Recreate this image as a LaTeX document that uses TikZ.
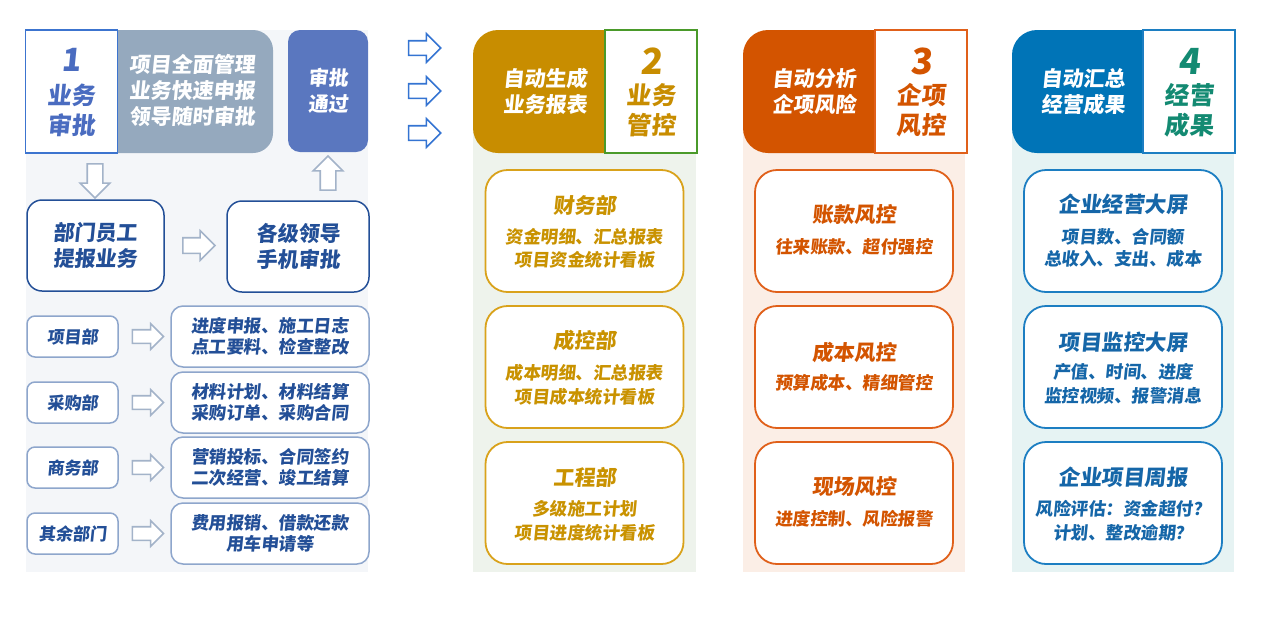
\documentclass[tikz,border=0pt]{standalone}
\usepackage{fontspec}
\newfontfamily\cjk{Noto Sans CJK SC}[FakeSlant=0.1]
\usetikzlibrary{shapes.arrows}

\definecolor{bgone}{HTML}{F4F6F9}
\definecolor{bgtwo}{HTML}{EEF3EC}
\definecolor{bgthree}{HTML}{FBEEE6}
\definecolor{bgfour}{HTML}{E6F3F3}
\definecolor{numblue}{HTML}{3C74CF}
\definecolor{onetext}{HTML}{4A6CC0}
\definecolor{deepblue}{HTML}{234F97}
\definecolor{grayhdr}{HTML}{95A9BE}
\definecolor{passblue}{HTML}{5A77BF}
\definecolor{arrgray}{HTML}{A3B3C9}
\definecolor{deptline}{HTML}{8EA6CC}
\definecolor{arrblue}{HTML}{3474D2}
\definecolor{goldhdr}{HTML}{C88D00}
\definecolor{goldline}{HTML}{D9A21B}
\definecolor{goldtext}{HTML}{C99200}
\definecolor{greenline}{HTML}{4A9A2A}
\definecolor{orghdr}{HTML}{D35400}
\definecolor{orgline}{HTML}{E0601A}
\definecolor{bluehdr}{HTML}{0074B7}
\definecolor{blueline}{HTML}{1C7EC2}
\definecolor{bluetext}{HTML}{1566A8}
\definecolor{tealtext}{HTML}{138A72}

\tikzset{
	txt/.style args={#1/#2}{align=center, inner sep=0pt, font=\cjk\bfseries\fontsize{#1}{#2}\selectfont},
	blockarr/.style={single arrow, draw=arrgray, fill=white, line width=1.6pt,
		minimum height=34pt, single arrow head extend=7pt, inner sep=7pt},
	flowbox/.style={draw=deepblue, fill=white, line width=1.5pt, rounded corners=15pt,
		minimum width=137pt, minimum height=91pt},
	deptbox/.style={draw=deptline, fill=white, line width=1.5pt, rounded corners=8pt,
		minimum width=91pt, minimum height=41pt},
	taskbox/.style={draw=deptline, fill=white, line width=1.5pt, rounded corners=12pt,
		minimum width=198pt, minimum height=61pt},
	numbox/.style={fill=white, line width=1.5pt, minimum width=92pt, minimum height=123pt},
	card/.style={draw=#1, fill=white, line width=1.8pt, rounded corners=22pt,
		minimum width=198pt, minimum height=122pt},
}

\begin{document}
\begin{tikzpicture}[x=1pt, y=-1pt]
		%%%%% START %%%%%
		\useasboundingbox (0,0) rectangle (1268,622);
		
		% column 1
		\fill[bgone] (26,30) rectangle (368,572);
		\fill[grayhdr, rounded corners=20pt] (26,30) rectangle (273,153);
		\node[numbox, draw=numblue] (stepone) at (71.5,91.5) {};
		\node[txt=32/32, text=onetext] (numone) at (71,60) {1};
		\node[txt=24/30, text=onetext] (titleone) at (71,110) {业务\\审批};
		\node[txt=21/26, text=white] (aimone) at (192,91) {项目全面管理\\业务快速申报\\领导随时审批};
		\node[fill=passblue, rounded corners=12pt, minimum width=80pt, minimum height=122pt,
			txt=20/26, text=white] (pass) at (328,91) {审批\\通过};
		
		\node[blockarr, shape border rotate=270] (downarr) at (95,177) {};
		\node[blockarr, shape border rotate=90] (uparr) at (328,177) {};
		
		\node[flowbox, txt=21/26, text=deepblue] (staff) at (95.5,245.5) {部门员工\\提报业务};
		\node[blockarr, minimum height=32pt] (staffarr) at (195,245.5) {};
		\node[flowbox, minimum width=142pt, txt=21/26, text=deepblue] (leader) at (298,246.5) {各级领导\\手机审批};
		
		\node[deptbox, txt=17/21, text=deepblue] (deptproj) at (72.5,336.5) {项目部};
		\node[blockarr, minimum height=31pt, inner sep=6pt, single arrow head extend=6pt] (arrproj) at (144.5,336.5) {};
		\node[taskbox, txt=17.5/21, text=deepblue] (taskproj) at (270,336.5) {进度申报、施工日志\\点工要料、检查整改};
		
		\node[deptbox, txt=17/21, text=deepblue] (deptbuy) at (72.5,402.5) {采购部};
		\node[blockarr, minimum height=31pt, inner sep=6pt, single arrow head extend=6pt] (arrbuy) at (144.5,402.5) {};
		\node[taskbox, txt=17.5/21, text=deepblue] (taskbuy) at (270,402.5) {材料计划、材料结算\\采购订单、采购合同};
		
		\node[deptbox, txt=17/21, text=deepblue] (deptbiz) at (72.5,467.5) {商务部};
		\node[blockarr, minimum height=31pt, inner sep=6pt, single arrow head extend=6pt] (arrbiz) at (144.5,467.5) {};
		\node[taskbox, txt=17.5/21, text=deepblue] (taskbiz) at (270,467.5) {营销投标、合同签约\\二次经营、竣工结算};
		
		\node[deptbox, txt=17/21, text=deepblue] (deptrest) at (72.5,533.5) {其余部门};
		\node[blockarr, minimum height=31pt, inner sep=6pt, single arrow head extend=6pt] (arrrest) at (144.5,533.5) {};
		\node[taskbox, txt=17.5/21, text=deepblue] (taskrest) at (270,533.5) {费用报销、借款还款\\用车申请等};
		
		% arrows to the other columns
		\node[blockarr, draw=arrblue, minimum height=32pt, inner sep=6.5pt] (goa) at (421,48) {};
		\node[blockarr, draw=arrblue, minimum height=32pt, inner sep=6.5pt] (gob) at (421,91) {};
		\node[blockarr, draw=arrblue, minimum height=32pt, inner sep=6.5pt] (goc) at (421,133) {};
		
		% column 2
		\fill[bgtwo] (473,92) rectangle (696,572);
		\fill[goldhdr, rounded corners=25pt] (473,30) rectangle (697,153);
		\node[numbox, draw=greenline] (steptwo) at (651,91.5) {};
		\node[txt=36/36, text=goldhdr] (numtwo) at (651,61) {2};
		\node[txt=24.5/30, text=goldhdr] (titletwo) at (651,110) {业务\\管控};
		\node[txt=21/26, text=white] (aimtwo) at (545,91.5) {自动生成\\业务报表};
		
		\node[card=goldline] (finance) at (584.5,231) {};
		\node[txt=21/21, text=goldtext] (financehead) at (584.5,205) {财务部};
		\node[txt=17.5/23.5, text=goldtext] (financebody) at (584.5,248.5) {资金明细、汇总报表\\项目资金统计看板};
		\node[card=goldline] (costdept) at (584.5,367) {};
		\node[txt=21/21, text=goldtext] (costdepthead) at (584.5,340) {成控部};
		\node[txt=17.5/23.5, text=goldtext] (costdeptbody) at (584.5,385) {成本明细、汇总报表\\项目成本统计看板};
		\node[card=goldline] (engdept) at (584.5,503) {};
		\node[txt=21/21, text=goldtext] (engdepthead) at (584.5,477) {工程部};
		\node[txt=17.5/24, text=goldtext] (engdeptbody) at (584.5,520.5) {多级施工计划\\项目进度统计看板};
		
		% column 3
		\fill[bgthree] (743,92) rectangle (965,572);
		\fill[orghdr, rounded corners=25pt] (743,30) rectangle (967,153);
		\node[numbox, draw=orgline] (stepthree) at (921,91.5) {};
		\node[txt=36/36, text=orghdr] (numthree) at (921,61) {3};
		\node[txt=24.5/30, text=orghdr] (titlethree) at (921,110) {企项\\风控};
		\node[txt=21/26, text=white] (aimthree) at (814,91.5) {自动分析\\企项风险};
		
		\node[card=orgline] (payrisk) at (854,231) {};
		\node[txt=21/21, text=orghdr] (payriskhead) at (854,215) {账款风控};
		\node[txt=17.5/17.5, text=orghdr] (payriskbody) at (854,247) {往来账款、超付强控};
		\node[card=orgline] (costrisk) at (854,367) {};
		\node[txt=21/21, text=orghdr] (costriskhead) at (854,352) {成本风控};
		\node[txt=17.5/17.5, text=orghdr] (costriskbody) at (854,383) {预算成本、精细管控};
		\node[card=orgline] (siterisk) at (854,503) {};
		\node[txt=21/21, text=orghdr] (siteriskhead) at (854,487) {现场风控};
		\node[txt=17.5/17.5, text=orghdr] (siteriskbody) at (854,519) {进度控制、风险报警};
		
		% column 4
		\fill[bgfour] (1012,92) rectangle (1234,572);
		\fill[bluehdr, rounded corners=25pt] (1012,30) rectangle (1235,153);
		\node[numbox, draw=blueline] (stepfour) at (1189,91.5) {};
		\node[txt=36/36, text=tealtext] (numfour) at (1189,61) {4};
		\node[txt=24.5/30, text=tealtext] (titlefour) at (1189,110) {经营\\成果};
		\node[txt=21/26, text=white] (aimfour) at (1083,91.5) {自动汇总\\经营成果};
		
		\node[card=blueline] (bizscreen) at (1123,231) {};
		\node[txt=21.5/21.5, text=bluetext] (bizscreenhead) at (1123,204) {企业经营大屏};
		\node[txt=17.5/22.5, text=bluetext] (bizscreenbody) at (1123,248) {项目数、合同额\\总收入、支出、成本};
		\node[card=blueline] (projscreen) at (1123,367) {};
		\node[txt=21.5/21.5, text=bluetext] (projscreenhead) at (1123,342) {项目监控大屏};
		\node[txt=17.5/24, text=bluetext] (projscreenbody) at (1123,384) {产值、时间、进度\\监控视频、报警消息};
		\node[card=blueline] (weekly) at (1123,503) {};
		\node[txt=21.5/21.5, text=bluetext] (weeklyhead) at (1123,477) {企业项目周报};
		\node[txt=17.5/24, text=bluetext] (weeklybody) at (1123,521) {风险评估：资金超付？\\计划、整改逾期？};
		
		%%%%% END %%%%%
	\end{tikzpicture}
\end{document}
